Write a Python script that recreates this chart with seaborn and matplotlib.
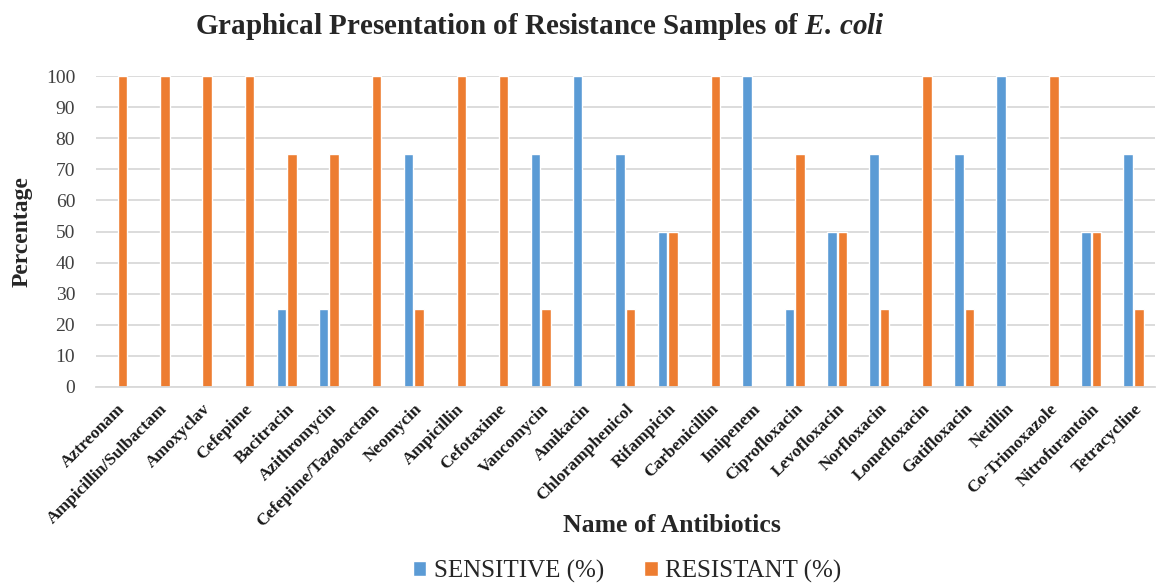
import matplotlib
matplotlib.use("Agg")
import matplotlib.pyplot as plt
import seaborn as sns
import pandas as pd

antibiotics = [
    "Aztreonam", "Ampicillin/Sulbactam", "Amoxyclav", "Cefepime", "Bacitracin",
    "Azithromycin", "Cefepime/Tazobactam", "Neomycin", "Ampicillin", "Cefotaxime",
    "Vancomycin", "Amikacin", "Chloramphenicol", "Rifampicin", "Carbenicillin",
    "Imipenem", "Ciprofloxacin", "Levofloxacin", "Norfloxacin", "Lomefloxacin",
    "Gatifloxacin", "Netillin", "Co-Trimoxazole", "Nitrofurantoin", "Tetracycline",
]
sensitive = [0, 0, 0, 0, 25, 25, 0, 75, 0, 0, 75, 100, 75, 50, 0,
             100, 25, 50, 75, 0, 75, 100, 0, 50, 75]
resistant = [100, 100, 100, 100, 75, 75, 100, 25, 100, 100, 25, 0, 25, 50, 100,
             0, 75, 50, 25, 100, 25, 0, 100, 50, 25]
series_names = ["SENSITIVE (%)", "RESISTANT (%)"]
yticks = list(range(0, 101, 10))

df = pd.DataFrame({
    "Antibiotic": antibiotics * 2,
    "Series": [series_names[0]] * len(antibiotics) + [series_names[1]] * len(antibiotics),
    "Value": sensitive + resistant,
})

sns.set_theme(style="white")
plt.rcParams["font.family"] = ["Liberation Serif", "DejaVu Serif"]
plt.rcParams["mathtext.fontset"] = "custom"
plt.rcParams["mathtext.rm"] = "Liberation Serif"
plt.rcParams["mathtext.bf"] = "Liberation Serif:bold"
plt.rcParams["mathtext.it"] = "Liberation Serif:italic"
plt.rcParams["mathtext.bfit"] = "Liberation Serif:italic:bold"

fig = plt.figure(figsize=(11.57, 5.83), dpi=100)
ax = fig.add_axes([0.083, 0.3362, 0.915, 0.5334])

sns.barplot(
    data=df, x="Antibiotic", y="Value", hue="Series",
    palette=["#5B9BD5", "#ED7D31"], width=0.5, gap=0.1,
    ax=ax, legend=True, saturation=1,
)

ax.set_ylim(0, 100)
ax.set_yticks(yticks)
ax.set_yticklabels([str(v) for v in yticks], fontsize=14, color="#404040")
ax.yaxis.grid(True, color="#D9D9D9", linewidth=1.3)
ax.set_axisbelow(True)
for side in ["top", "right", "left"]:
    ax.spines[side].set_visible(False)
ax.spines["bottom"].set_color("#D9D9D9")
ax.spines["bottom"].set_linewidth(1.3)
ax.tick_params(axis="y", length=0, pad=15)
ax.tick_params(axis="x", length=0, pad=10)
ax.set_xlim(-0.5, len(antibiotics) - 0.5)

ax.set_xticks(range(len(antibiotics)))
ax.set_xticklabels(antibiotics, rotation=45, ha="right", rotation_mode="anchor",
                   fontsize=12.5, fontweight="bold", color="#1a1a1a")

ax.set_xlabel("Name of Antibiotics", fontsize=18.5, fontweight="bold")
ax.xaxis.label.set_va("center")
ax.xaxis.set_label_coords(0.544, -0.444)
ax.set_ylabel("Percentage", fontsize=17, fontweight="bold")
ax.yaxis.label.set_va("center")
ax.yaxis.set_label_coords(-0.0697, 0.5)

fig.text(0.467, 0.954,
         r"Graphical Presentation of Resistance Samples of $\mathbfit{E.\,coli}$",
         ha="center", va="center", fontsize=21, fontweight="bold")

handles, labels = ax.get_legend_handles_labels()
ax.legend_.remove()
fig.legend(handles, labels, loc="center", bbox_to_anchor=(0.542, 0.02),
           ncol=2, frameon=False, fontsize=18, handlelength=0.55,
           handleheight=0.55, handletextpad=0.3, columnspacing=1.6)

fig.savefig("out.png", dpi=100)
